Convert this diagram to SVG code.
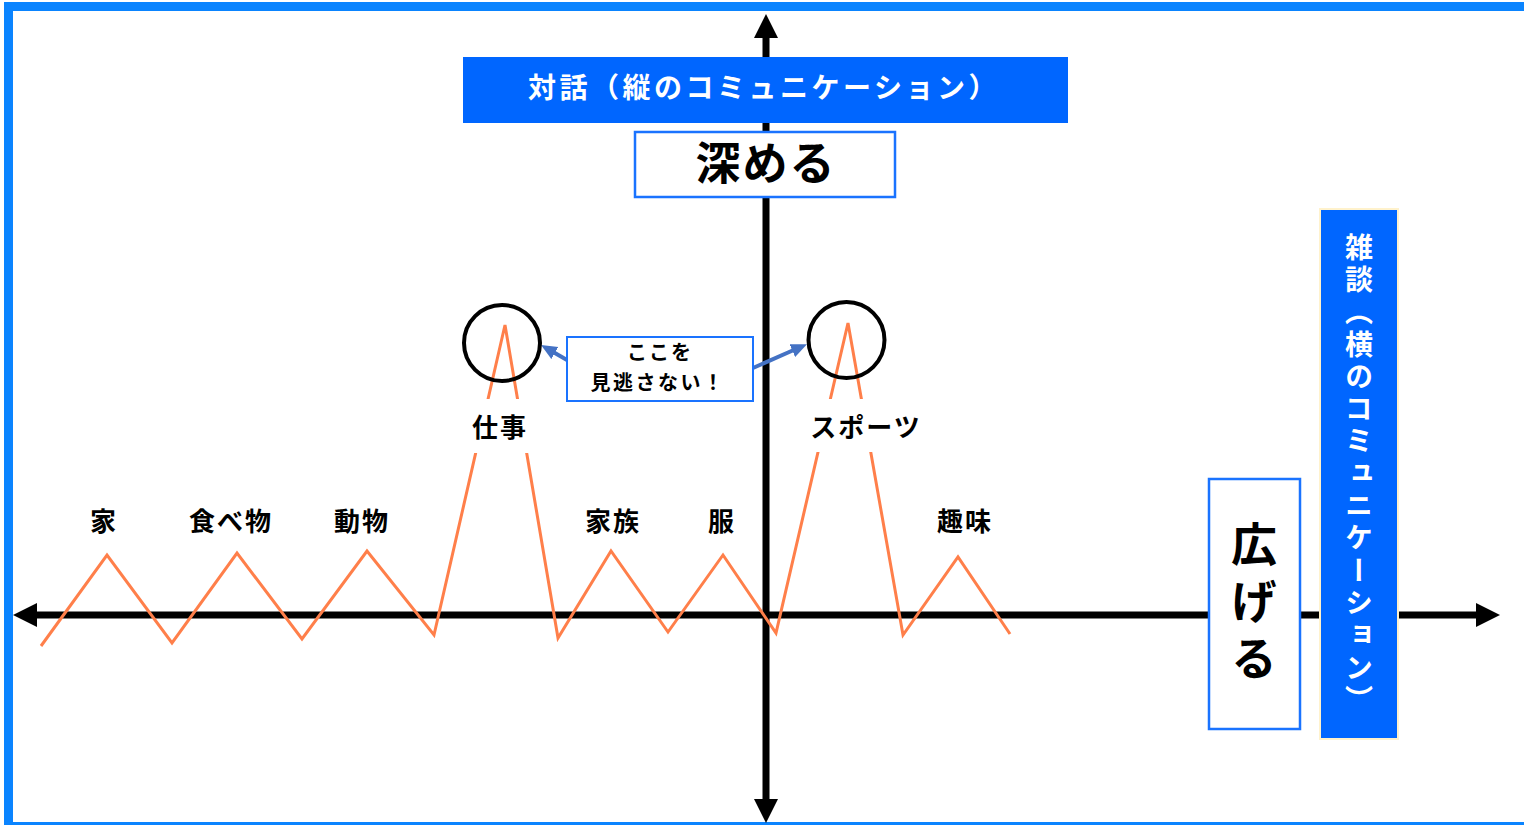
<svg xmlns="http://www.w3.org/2000/svg" width="1524" height="825" viewBox="0 0 1524 825">
  <style>
    text { font-family: "Noto Sans CJK JP", "Noto Sans", sans-serif; font-weight: bold; }
    .lbl { font-size: 26px; fill: #000; text-anchor: middle; letter-spacing: 2px; }
    .axis { stroke: #000; stroke-width: 7; fill: none; }
    .zig { stroke: #FF7F4A; stroke-width: 3; fill: none; stroke-linejoin: miter; }
    .wbox { fill: #fff; stroke: #1A73FF; stroke-width: 2.5; }
    .bbox { fill: #0066FF; }
    .ring { fill: none; stroke: #000; stroke-width: 4; }
    .callarrow { stroke: #4472C4; stroke-width: 4; fill: none; }
  </style>
  <defs>
    <marker id="axhead" markerUnits="userSpaceOnUse" markerWidth="26" markerHeight="26" refX="4" refY="12" orient="auto-start-reverse">
      <path d="M0,0 L24,12 L0,24 z" fill="#000"/>
    </marker>
    <marker id="bluehead" markerUnits="userSpaceOnUse" markerWidth="18" markerHeight="16" refX="4" refY="7" orient="auto">
      <path d="M0,0 L16,7 L0,14 z" fill="#4472C4"/>
    </marker>
  </defs>

  <rect x="0" y="0" width="1524" height="825" fill="#fff"/>
  <rect id="frame" x="8.5" y="6.5" width="1530" height="820" fill="none" stroke="#0A84FF" stroke-width="9"/>

  <g id="connectors">
    <line class="axis" x1="33" y1="615" x2="1480" y2="615" marker-start="url(#axhead)" marker-end="url(#axhead)"/>
    <line class="axis" x1="766" y1="34" x2="766" y2="803" marker-start="url(#axhead)" marker-end="url(#axhead)"/>
    <polyline class="zig" points="41,646 107,555 172,643 237,553 302,639 367,551 434,635 505,325 558,638 611,551 668,632 723,555 776,633 848,323 903,635 958,557 1010,634"/>
    <line class="callarrow" x1="567" y1="360" x2="551.4" y2="351" marker-end="url(#bluehead)"/>
    <line class="callarrow" x1="753" y1="368" x2="796" y2="349" marker-end="url(#bluehead)"/>
  </g>

  <g id="label-ie"><text class="lbl" x="104" y="531">家</text></g>
  <g id="label-tabemono"><text class="lbl" x="231" y="531">食べ物</text></g>
  <g id="label-doubutsu"><text class="lbl" x="362" y="531">動物</text></g>
  <g id="label-shigoto">
    <rect x="460" y="399" width="82" height="54" fill="#fff"/>
    <text class="lbl" x="500" y="437">仕事</text>
  </g>
  <g id="label-kazoku"><text class="lbl" x="613" y="531">家族</text></g>
  <g id="label-fuku"><text class="lbl" x="722" y="531">服</text></g>
  <g id="label-sports">
    <rect x="806" y="399" width="120" height="53" fill="#fff"/>
    <text class="lbl" x="866" y="437">スポーツ</text>
  </g>
  <g id="label-shumi"><text class="lbl" x="965" y="531">趣味</text></g>

  <g id="circle-shigoto"><circle class="ring" cx="502" cy="343" r="38"/></g>
  <g id="circle-sports"><circle class="ring" cx="846.5" cy="340" r="38"/></g>

  <g id="box-taiwa">
    <rect class="bbox" x="463" y="57" width="605" height="66"/>
    <text x="764" y="98" font-size="28" fill="#fff" text-anchor="middle" letter-spacing="3.5">対話（縦のコミュニケーション）</text>
  </g>
  <g id="box-fukameru">
    <rect class="wbox" x="635" y="132" width="260" height="65"/>
    <text x="766" y="180" font-size="45" fill="#000" text-anchor="middle" letter-spacing="2">深める</text>
  </g>

  <g id="box-hirogeru">
    <rect class="wbox" x="1209" y="479" width="91" height="250"/>
    <text x="1254" y="521" font-size="46" fill="#000" letter-spacing="11" style="writing-mode: vertical-rl;">広げる</text>
  </g>

  <g id="box-zatsudan">
    <rect x="1320" y="209" width="78" height="530" fill="#0066FF" stroke="#FFF2CC" stroke-width="2"/>
    <text x="1359" y="233" font-size="28" fill="#fff" letter-spacing="4.3" style="writing-mode: vertical-rl;">雑談（横のコミュニケーション）</text>
  </g>

  <g id="callout">
    <rect x="567" y="337" width="186" height="64" fill="#fff" stroke="#1A73FF" stroke-width="2"/>
    <text x="660" y="360" font-size="20" fill="#000" text-anchor="middle" letter-spacing="2">ここを</text>
    <text x="658" y="390" font-size="20" fill="#000" text-anchor="middle" letter-spacing="2.5">見逃さない！</text>
  </g>
</svg>
